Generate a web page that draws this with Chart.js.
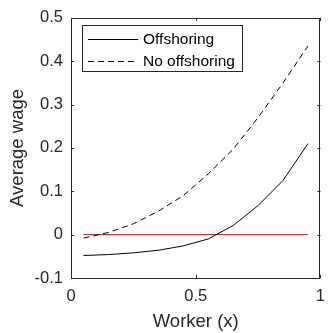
<!DOCTYPE html>
<html>
<head>
<meta charset="utf-8">
<script src="https://cdn.jsdelivr.net/npm/chart.js@4/dist/chart.umd.min.js"></script>
<style>
  html, body { margin: 0; padding: 0; background: #fff; }
  #c { display: block; }
</style>
</head>
<body>
<canvas id="c" width="334" height="333"></canvas>
<script>
// Worker positions and average wage series
const workerX = [0.05, 0.15, 0.25, 0.35, 0.45, 0.55, 0.65, 0.75, 0.85, 0.95];
const offshoring = [-0.048, -0.046, -0.042, -0.036, -0.026, -0.010, 0.021, 0.067, 0.125, 0.210];
const noOffshoring = [-0.008, 0.005, 0.025, 0.054, 0.090, 0.140, 0.197, 0.270, 0.350, 0.435];
const zeroLineX = [0.05, 0.95];
const zeroLineY = [0, 0];
const xTicks = [0, 0.5, 1];
const yTicks = [-0.1, 0, 0.1, 0.2, 0.3, 0.4, 0.5];

const AXIS = '#262626';
const FONT = 'Liberation Sans, Arial, Helvetica, sans-serif';

const pts = (xs, ys) => xs.map((x, i) => ({ x: x, y: ys[i] }));

// Box around the plot area with inward tick marks on all four sides
const boxTicks = {
  id: 'boxTicks',
  afterDraw(chart) {
    const { ctx, chartArea: a, scales: { x, y } } = chart;
    ctx.save();
    ctx.strokeStyle = AXIS;
    ctx.lineWidth = 1;
    ctx.strokeRect(Math.round(a.left) + 0.5, Math.round(a.top) + 0.5,
      Math.round(a.right - a.left) - 1, Math.round(a.bottom - a.top));
    const len = 3;
    ctx.beginPath();
    xTicks.forEach(v => {
      const px = Math.round(x.getPixelForValue(v)) + 0.5;
      ctx.moveTo(px, a.bottom); ctx.lineTo(px, a.bottom - len);
      ctx.moveTo(px, a.top); ctx.lineTo(px, a.top + len);
    });
    yTicks.forEach(v => {
      const py = Math.round(y.getPixelForValue(v)) + 0.5;
      ctx.moveTo(a.left, py); ctx.lineTo(a.left + len, py);
      ctx.moveTo(a.right, py); ctx.lineTo(a.right - len, py);
    });
    ctx.stroke();
    ctx.restore();
  }
};

// Boxed legend in the upper-left corner of the plot
const boxLegend = {
  id: 'boxLegend',
  afterDraw(chart) {
    const { ctx } = chart;
    const sets = chart.data.datasets.filter(d => d.label);
    const bx = 82.5, by = 25.5, bw = 160, bh = 46;
    ctx.save();
    ctx.fillStyle = '#fff';
    ctx.fillRect(bx, by, bw, bh);
    ctx.strokeStyle = AXIS;
    ctx.lineWidth = 1;
    ctx.strokeRect(bx, by, bw, bh);
    ctx.font = '15.5px ' + FONT;
    ctx.textBaseline = 'middle';
    ctx.textAlign = 'left';
    sets.forEach((d, i) => {
      const ly = 39 + i * 22;
      ctx.strokeStyle = d.borderColor;
      ctx.lineWidth = d.borderWidth;
      ctx.setLineDash(d.borderDash || []);
      ctx.beginPath();
      ctx.moveTo(88, ly + 0.5);
      ctx.lineTo(138, ly + 0.5);
      ctx.stroke();
      ctx.setLineDash([]);
      ctx.fillStyle = '#000';
      ctx.fillText(d.label, 143, ly + 1);
    });
    ctx.restore();
  }
};

new Chart(document.getElementById('c'), {
  type: 'line',
  data: {
    datasets: [
      {
        label: 'Offshoring',
        data: pts(workerX, offshoring),
        borderColor: '#000',
        borderWidth: 1,
        pointRadius: 0,
        tension: 0
      },
      {
        label: 'No offshoring',
        data: pts(workerX, noOffshoring),
        borderColor: '#000',
        borderWidth: 1,
        borderDash: [6, 4],
        pointRadius: 0,
        tension: 0
      },
      {
        label: '',
        data: pts(zeroLineX, zeroLineY),
        borderColor: '#ff0000',
        borderWidth: 1,
        pointRadius: 0,
        tension: 0
      }
    ]
  },
  options: {
    responsive: false,
    animation: false,
    devicePixelRatio: 1,
    layout: { padding: { left: 0, top: 13, right: 2, bottom: 0 } },
    plugins: {
      legend: { display: false },
      tooltip: { enabled: false }
    },
    scales: {
      x: {
        type: 'linear',
        min: 0,
        max: 1,
        afterBuildTicks: s => { s.ticks = xTicks.map(v => ({ value: v })); },
        afterFit: s => { s.height = 55; },
        grid: { display: false, drawTicks: false },
        border: { display: false },
        ticks: {
          padding: 9,
          color: AXIS,
          font: { family: FONT, size: 16.5 },
          maxRotation: 0,
          callback: v => String(Math.round(v * 10) / 10)
        },
        title: {
          display: true,
          text: 'Worker (x)',
          color: AXIS,
          font: { family: FONT, size: 18.5 },
          padding: { top: 0, bottom: 0 }
        }
      },
      y: {
        type: 'linear',
        min: -0.1,
        max: 0.5,
        afterBuildTicks: s => { s.ticks = yTicks.map(v => ({ value: v })); },
        afterFit: s => { s.width = 71; },
        grid: { display: false, drawTicks: false },
        border: { display: false },
        ticks: {
          padding: 8,
          color: AXIS,
          font: { family: FONT, size: 16.5 },
          callback: v => String(Math.round(v * 10) / 10)
        },
        title: {
          display: true,
          text: 'Average wage',
          color: AXIS,
          font: { family: FONT, size: 18.5 },
          padding: { top: 7, bottom: 0 }
        }
      }
    }
  },
  plugins: [boxTicks, boxLegend]
});
</script>
</body>
</html>
